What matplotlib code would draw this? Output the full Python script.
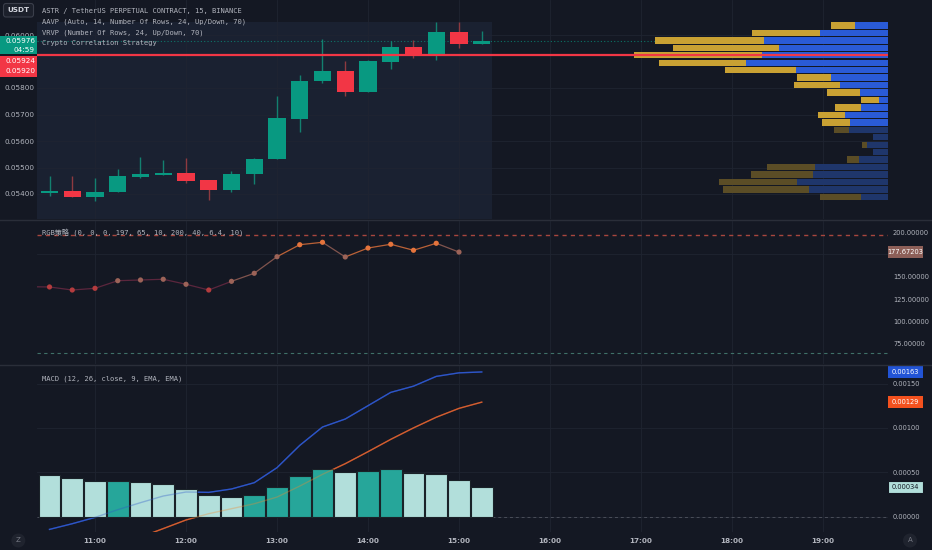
import numpy as np
import matplotlib.pyplot as plt
from matplotlib.patches import Rectangle, FancyBboxPatch, Circle
from matplotlib.ticker import FormatStrFormatter

# ---- data ----
bar_times = ["10:30", "10:45", "11:00", "11:15", "11:30", "11:45", "12:00", "12:15", "12:30", "12:45",
             "13:00", "13:15", "13:30", "13:45", "14:00", "14:15", "14:30", "14:45", "15:00", "15:15"]
opens = [0.05403, 0.05412, 0.05388, 0.05406, 0.05465, 0.05473, 0.05478, 0.05452, 0.05416, 0.05474,
         0.05531, 0.05682, 0.05826, 0.05864, 0.05786, 0.05898, 0.05955, 0.05925, 0.06012, 0.05967]
highs = [0.05469, 0.05469, 0.05459, 0.05494, 0.05538, 0.05528, 0.05537, 0.05452, 0.05487, 0.05535,
         0.05771, 0.05849, 0.05985, 0.05902, 0.05905, 0.05977, 0.05981, 0.06049, 0.06050, 0.06015]
lows = [0.05394, 0.05388, 0.05374, 0.05406, 0.05462, 0.05473, 0.05443, 0.05377, 0.05409, 0.05437,
        0.05531, 0.05633, 0.05818, 0.05771, 0.05786, 0.05872, 0.05912, 0.05906, 0.05952, 0.05965]
closes = [0.05412, 0.05388, 0.05408, 0.05468, 0.05475, 0.05478, 0.05449, 0.05416, 0.05477, 0.05533,
          0.05686, 0.05828, 0.05864, 0.05786, 0.05901, 0.05955, 0.05921, 0.06012, 0.05967, 0.05976]
price_ticks = [0.054, 0.055, 0.056, 0.057, 0.058, 0.060]
red_line_price = 0.05924
second_label_price = 0.05920
countdown = "04:59"

# volume profile rows, top row first (up = yellow, down = blue)
vp_top, vp_bottom = 0.06050, 0.05375
vp_up = [24, 68, 109, 106, 128, 87, 71, 34, 46, 33, 18, 26, 27, 28, 15, 0, 5, 0, 12, 48, 62, 78, 86, 41]
vp_down = [33, 68, 124, 109, 126, 142, 92, 57, 48, 28, 9, 27, 43, 38, 39, 15, 21, 15, 29, 73, 75, 91, 79, 27]
value_area_rows = 14

# "RGB策略" pane
rgb_times = ["10:15"] + bar_times[:-1]
rgb_vals = [139.0, 138.7, 135.3, 137.2, 145.7, 146.5, 147.3, 141.7, 135.3, 145.0,
            154.0, 172.5, 185.9, 188.6, 172.2, 182.2, 186.4, 179.7, 187.5, 177.67203]
rgb_upper, rgb_lower = 197, 65
rgb_ticks = [75, 100, 125, 150, 200]
rgb_grid = [75, 100, 125, 150, 175]

# MACD pane
macd = [-0.000143, -0.000079, -0.000008, 0.000079, 0.000158, 0.000233, 0.000278, 0.000274, 0.000312, 0.000383,
        0.000552, 0.000803, 0.00101, 0.00110, 0.00125, 0.00140, 0.00147, 0.00158, 0.00162, 0.00163]
signal = [-0.00062, -0.00051, -0.00041, -0.00032, -0.00023, -0.000134, -0.000037, 0.000034, 0.00009, 0.000146,
          0.000221, 0.000345, 0.000477, 0.000597, 0.000732, 0.000871, 0.00100, 0.00112, 0.00122, 0.00129]
hist = [0.000473, 0.000435, 0.000401, 0.000404, 0.000386, 0.000367, 0.000315, 0.000248, 0.000225, 0.00024,
        0.00033, 0.000457, 0.000533, 0.000499, 0.000518, 0.000533, 0.000488, 0.00048, 0.000417, 0.000338]
macd_ticks = [0.0, 0.0005, 0.001, 0.0015]
hour_labels = ["11:00", "12:00", "13:00", "14:00", "15:00", "16:00", "17:00", "18:00", "19:00"]


def to_hours(s):
    h, m = s.split(":")
    return int(h) + int(m) / 60


t = np.array([to_hours(s) for s in bar_times])
t_rgb = np.array([to_hours(s) for s in rgb_times])
hours = np.array([to_hours(s) for s in hour_labels])
opens, highs, lows, closes = map(np.array, (opens, highs, lows, closes))

# ---- look ----
W, H = 932, 550
BG = "#141823"
SHADE = "#1a2131"
GRID = "#1f2431"
TXT = "#b2b5be"
UP = "#089981"
DOWN = "#f23645"
MONO = ["DejaVu Sans Mono", "Noto Sans CJK SC"]

fig = plt.figure(figsize=(W / 100, H / 100), dpi=100, facecolor=BG)


def px_axes(x0, y0, x1, y1):
    a = fig.add_axes([x0 / W, 1 - y1 / H, (x1 - x0) / W, (y1 - y0) / H])
    a.set_facecolor(BG)
    for s in a.spines.values():
        s.set_visible(False)
    a.tick_params(which="both", length=0, colors=TXT, labelsize=5.2)
    return a


x_left = 11 + (37 - 95) / 91
x_right = 11 + (888 - 95) / 91

# ---- main pane ----
ax = px_axes(37, 0, 888, 219)
ax.set_xlim(x_left, x_right)
ax.set_ylim(0.054 - 25 / 26500, 0.054 + 194 / 26500)
ax.set_xticks(hours)
ax.set_xticklabels([])
ax.set_yticks(price_ticks)
ax.yaxis.set_major_formatter(FormatStrFormatter("%.5f"))
ax.tick_params(axis="y", pad=1.5)
ax.grid(True, color=GRID, lw=0.6)
ax.set_axisbelow(True)

ax.add_patch(Rectangle((x_left, ax.get_ylim()[0]), t[-1] + 0.113 - x_left, highs.max() - ax.get_ylim()[0],
                       facecolor=SHADE, edgecolor="none", zorder=0.5))

bw = 0.19
for i in range(len(t)):
    up = closes[i] >= opens[i]
    ax.vlines(t[i], lows[i], highs[i], color="#13806f" if up else "#8e3a40", lw=1, zorder=2)
    lo, hi = min(opens[i], closes[i]), max(opens[i], closes[i])
    ax.add_patch(Rectangle((t[i] - bw / 2, lo), bw, max(hi - lo, 0.00004),
                           facecolor=UP if up else DOWN, edgecolor="none", zorder=3))

ax.axhline(closes[-1], color=UP, lw=0.8, ls=(0, (1, 2)), alpha=0.7, zorder=2)

# volume profile on a twin axis anchored at the right edge
vp = ax.twiny()
vp.set_xlim(851, 0)
vp.set_xticks([])
for s in vp.spines.values():
    s.set_visible(False)
rows = len(vp_up)
row_h = (vp_top - vp_bottom) / rows
row_y = vp_top - row_h * (np.arange(rows) + 0.5)
in_va = np.arange(rows) < value_area_rows
vp_up, vp_down = np.array(vp_up), np.array(vp_down)
vp.barh(row_y, vp_down, left=0, height=row_h * 0.86,
        color=np.where(in_va, "#2a5bd7", "#1f366b"), zorder=2)
vp.barh(row_y, vp_up, left=vp_down, height=row_h * 0.86,
        color=np.where(in_va, "#c9a133", "#5b4d26"), zorder=2)
vp.axhline(red_line_price, color=DOWN, lw=1.6, zorder=5)

# ---- RGB strategy pane ----
ar = px_axes(37, 221, 888, 364)
ar.set_xlim(x_left, x_right)
ar.set_ylim(75 - 20 / 0.8953, 75 + 123 / 0.8953)
ar.set_xticks(hours)
ar.set_xticklabels([])
ar.yaxis.tick_right()
ar.set_yticks(rgb_ticks)
ar.set_yticks(rgb_grid, minor=True)
ar.yaxis.set_major_formatter(FormatStrFormatter("%.5f"))
ar.tick_params(axis="y", pad=3.6, labelsize=4.8)
ar.grid(True, axis="x", color=GRID, lw=0.6)
ar.grid(True, axis="y", which="minor", color=GRID, lw=0.6)
ar.set_axisbelow(True)
ar.axhline(rgb_upper, color="#a8463e", lw=1, ls=(0, (3, 3)))
ar.axhline(rgb_lower, color="#3f7068", lw=0.8, ls=(0, (3, 3)))

rgb_vals = np.array(rgb_vals)
pt_cols = np.select([rgb_vals < 140, rgb_vals < 178], ["#b43c3e", "#9c6358"], "#e5743c")
for i in range(1, len(rgb_vals)):
    seg_c = "#6e2a44" if rgb_vals[i] < 150 and rgb_vals[i - 1] < 150 else pt_cols[i]
    ar.plot(t_rgb[i - 1:i + 1], rgb_vals[i - 1:i + 1], color=seg_c, lw=0.9, alpha=0.8, zorder=2)
ar.scatter(t_rgb, rgb_vals, s=14, c=pt_cols, zorder=3, linewidths=0)

# ---- MACD pane ----
am = px_axes(37, 366, 888, 532)
am.set_xlim(x_left, x_right)
am.set_ylim((516.7 - 532) / 88800, (516.7 - 366) / 88800)
am.yaxis.tick_right()
am.set_yticks(macd_ticks)
am.yaxis.set_major_formatter(FormatStrFormatter("%.5f"))
am.tick_params(axis="y", pad=3.6, labelsize=4.8)
am.set_xticks(hours)
am.set_xticklabels(hour_labels, fontweight="bold")
am.tick_params(axis="x", pad=4, labelsize=5.2)
am.grid(True, color=GRID, lw=0.6)
am.set_axisbelow(True)
am.axhline(0, color="#4a4e59", lw=0.7, ls=(0, (3, 3)))

hist = np.array(hist)
rising = np.r_[False, np.diff(hist) > 0]
am.bar(t, hist, width=0.24, color=np.where(rising, "#26a69a", "#b2dfdb"),
       edgecolor="#1a2228", lw=0.8, zorder=3)
for z, a in ((2, 1.0), (4, 0.35)):
    am.plot(t, macd, color="#2d55c8", lw=1, zorder=z, alpha=a)
    am.plot(t, signal, color="#c4472f" if z == 2 else "#f08a30", lw=1, zorder=z, alpha=a)

# ---- overlay in pixel space for labels and chrome ----
ov = fig.add_axes([0, 0, 1, 1], zorder=10)
ov.set_xlim(0, W)
ov.set_ylim(H, 0)
ov.axis("off")
ov.patch.set_alpha(0)


def ypx(a, v):
    return H - a.transData.transform((a.get_xlim()[0], v))[1]


for yy in (220, 365):
    ov.plot([0, W], [yy, yy], color="#2a2e39", lw=1)

# left price labels
py = ypx(ax, closes[-1])
ov.add_patch(Rectangle((0, py - 5), 37, 18, facecolor=UP, edgecolor="none"))
ov.text(35, py, f"{closes[-1]:.5f}", color="white", fontsize=5.2, ha="right", va="center")
ov.text(35, py + 8.5, countdown, color="white", fontsize=5.2, ha="right", va="center")
pr = ypx(ax, red_line_price)
ov.add_patch(Rectangle((0, pr + 0.5), 37, 21, facecolor=DOWN, edgecolor="none"))
ov.text(35, pr + 5.5, f"{red_line_price:.5f}", color="white", fontsize=5.2, ha="right", va="center")
ov.text(35, pr + 15.8, f"{second_label_price:.5f}", color="white", fontsize=5.2, ha="right", va="center")


# right value labels
def right_box(a, v, face, txtc, edge="none"):
    y = ypx(a, v)
    ov.add_patch(Rectangle((888, y - 6), 35, 12, facecolor=face, edgecolor=edge, lw=0.8))
    ov.text(905.5, y, f"{v:.5f}", color=txtc, fontsize=4.8, ha="center", va="center")


right_box(ar, rgb_vals[-1], "#8d5f58", "white")
right_box(am, macd[-1], "#2254d6", "white")
right_box(am, signal[-1], "#f4511e", "white")
right_box(am, hist[-1], "#b2dfdb", "#131722", edge="#131722")

# legends
legend = ["ASTR / TetherUS PERPETUAL CONTRACT, 15, BINANCE",
          "AAVP (Auto, 14, Number Of Rows, 24, Up/Down, 70)",
          "VRVP (Number Of Rows, 24, Up/Down, 70)",
          "Crypto Correlation Strategy"]
for k, line in enumerate(legend):
    ov.text(42, 11.5 + k * 10.6, line, color=TXT, fontsize=5.1, family=MONO, va="center")
ov.text(42, 232, "RGB策略 (0, 0, 0, 197, 65, 10, 200, 40, 6.4, 10)", color=TXT,
        fontsize=5.1, family=MONO, va="center")
ov.text(42, 378.5, "MACD (12, 26, close, 9, EMA, EMA)", color=TXT, fontsize=5.1, family=MONO, va="center")

# chrome
ov.add_patch(FancyBboxPatch((3.5, 3.5), 30, 13.5, boxstyle="round,pad=0,rounding_size=2.5",
                            facecolor="#1c202b", edgecolor="#3a3e4a", lw=0.8))
ov.text(18.5, 10.3, "USDT", color="#d1d4dc", fontsize=5.2, fontweight="bold", ha="center", va="center")
for cx, ch in ((18.3, "Z"), (910, "A")):
    ov.add_patch(Circle((cx, 540.5), 7, facecolor="#1f232e", edgecolor="none"))
    ov.text(cx, 540.5, ch, color="#787b86", fontsize=5, ha="center", va="center")

fig.savefig("out.png", dpi=100, facecolor=BG)
